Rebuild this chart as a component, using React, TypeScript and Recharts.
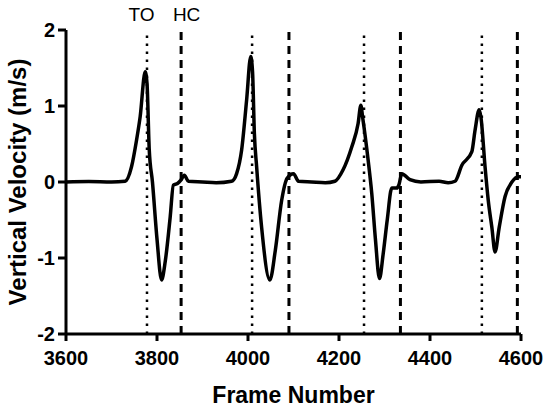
import { LineChart, Line, XAxis, YAxis, ReferenceLine, Label } from 'recharts'

// frame numbers and vertical velocity (m/s)
const frames = [
  3600, 3650, 3700, 3730, 3744, 3755, 3763, 3774, 3778, 3783, 3790, 3800, 3810, 3818, 3829, 3836, 3845, 3852, 3860, 3869,
  3900, 3930, 3964, 3975, 3986, 3997, 4006, 4010, 4014, 4019, 4030, 4048, 4060, 4074, 4086, 4100, 4111,
  4140, 4170, 4191, 4209, 4228, 4242, 4248, 4252, 4264, 4272, 4280, 4289, 4297, 4306, 4316, 4327, 4332, 4338, 4356,
  4380, 4420, 4440, 4455, 4470, 4492, 4499, 4508, 4512, 4521, 4528, 4536, 4543, 4552, 4565, 4580, 4594, 4600,
]
const velocity = [
  0, 0.005, 0, 0.01, 0.2, 0.55, 0.86, 1.45, 1.3, 0.42, 0, -0.75, -1.29, -1.05, -0.46, -0.04, -0.02, 0.02, 0.09, 0.01,
  0, -0.01, 0.01, 0.11, 0.42, 1.08, 1.65, 1.45, 0.64, 0.2, -0.6, -1.29, -0.9, -0.24, 0.05, 0.11, 0.01,
  0, -0.01, 0.01, 0.16, 0.46, 0.77, 1.01, 0.85, 0.29, -0.15, -0.75, -1.27, -0.95, -0.5, -0.08, -0.08, -0.03, 0.11, 0.03,
  0, 0.01, -0.01, 0.01, 0.22, 0.4, 0.68, 0.95, 0.85, 0.2, -0.24, -0.6, -0.92, -0.6, -0.19, 0, 0.07, 0.07,
]

// toe-off (dotted) and heel-contact (dashed) frames
const toeOff = [3778, 4009, 4255, 4514]
const heelContact = [3853, 4090, 4335, 4592]

const xTicks = [3600, 3800, 4000, 4200, 4400, 4600]
const yTicks = [-2, -1, 0, 1, 2]

const data = frames.map((f, i) => ({ frame: f, v: velocity[i] }))

const font = '"Liberation Sans", Arial, sans-serif'
const tickStyle = { fill: '#000', fontSize: 20, fontWeight: 700, fontFamily: font }

// small text above the first pair of event lines
const eventLabel = (text: string, dx: number) => (props: any) => {
  const vb = props.viewBox || {}
  const cx = (vb.x ?? 0) + dx
  return (
    <text x={cx} y={21} textAnchor="middle" fill="#000" fontSize={19} fontFamily={font}>
      {text}
    </text>
  )
}

export default function App() {
  return (
    <div style={{ position: 'absolute', left: 0, top: 0, background: '#fff' }}>
      <LineChart width={550} height={408} data={data} margin={{ top: 30, right: 29, bottom: 0, left: 0 }}>
        <XAxis
          dataKey="frame"
          type="number"
          domain={[3600, 4600]}
          ticks={xTicks}
          allowDataOverflow
          height={74}
          stroke="#000"
          strokeWidth={3}
          tickSize={7}
          tickMargin={10}
          tick={tickStyle}
        >
          <Label
            value="Frame Number"
            position="insideBottom"
            offset={5}
            style={{ fill: '#000', fontSize: 23, fontWeight: 700, fontFamily: font }}
          />
        </XAxis>
        <YAxis
          type="number"
          domain={[-2, 2]}
          ticks={yTicks}
          width={66}
          stroke="#000"
          strokeWidth={3}
          tickSize={8}
          tickMargin={3}
          tick={tickStyle}
        >
          <Label
            content={() => (
              <text
                x={17}
                y={182}
                transform="rotate(-90, 17, 182)"
                textAnchor="middle"
                dominantBaseline="central"
                style={{ fill: '#000', fontSize: 24, fontWeight: 700, fontFamily: font }}
              >
                Vertical Velocity (m/s)
              </text>
            )}
          />
        </YAxis>
        {toeOff.map((x, i) => (
          <ReferenceLine
            key={'to' + x}
            x={x}
            stroke="#000"
            strokeWidth={2.5}
            strokeDasharray="2.5 5.5"
            label={i === 0 ? eventLabel('TO', -5.5) : undefined}
          />
        ))}
        {heelContact.map((x, i) => (
          <ReferenceLine
            key={'hc' + x}
            x={x}
            stroke="#000"
            strokeWidth={3}
            strokeDasharray="8 6"
            label={i === 0 ? eventLabel('HC', 5.5) : undefined}
          />
        ))}
        <Line
          type="monotone"
          dataKey="v"
          stroke="#000"
          strokeWidth={3.5}
          dot={false}
          isAnimationActive={false}
        />
      </LineChart>
    </div>
  )
}
